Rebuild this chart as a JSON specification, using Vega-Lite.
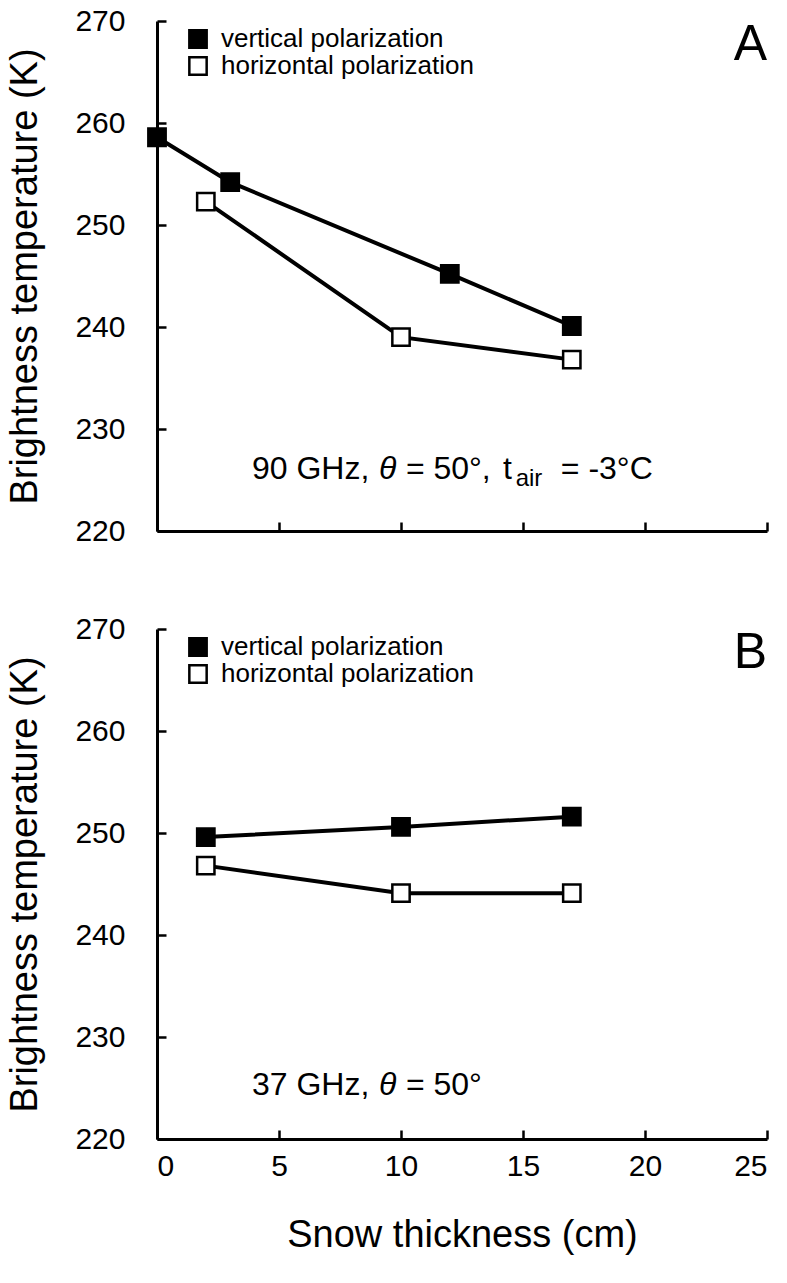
{
  "$schema": "https://vega.github.io/schema/vega-lite/v6.json",
  "background": "white",
  "padding": {"left": 6, "top": 6, "right": 10, "bottom": 10},
  "spacing": 68,
  "datasets": {
    "a": [
      {"x": 0, "tb": 258.6, "pol": "vertical polarization"},
      {"x": 3, "tb": 254.2, "pol": "vertical polarization"},
      {"x": 12, "tb": 245.2, "pol": "vertical polarization"},
      {"x": 17, "tb": 240.1, "pol": "vertical polarization"},
      {"x": 2, "tb": 252.3, "pol": "horizontal polarization"},
      {"x": 10, "tb": 239.0, "pol": "horizontal polarization"},
      {"x": 17, "tb": 236.8, "pol": "horizontal polarization"}
    ],
    "b": [
      {"x": 2, "tb": 249.6, "pol": "vertical polarization"},
      {"x": 10, "tb": 250.6, "pol": "vertical polarization"},
      {"x": 17, "tb": 251.6, "pol": "vertical polarization"},
      {"x": 2, "tb": 246.8, "pol": "horizontal polarization"},
      {"x": 10, "tb": 244.1, "pol": "horizontal polarization"},
      {"x": 17, "tb": 244.1, "pol": "horizontal polarization"}
    ]
  },
  "config": {
    "view": {"stroke": null},
    "axis": {
      "domainColor": "black", "domainWidth": 3, "tickColor": "black", "tickWidth": 2.5, "tickSize": -9,
      "labelFont": "Liberation Sans Narrow, Liberation Sans", "labelFontSize": 30, "labelColor": "black",
      "titleFont": "Liberation Sans", "titleFontSize": 38, "titleFontWeight": "normal", "titleColor": "black",
      "grid": false
    },
    "legend": {
      "orient": "none", "legendX": 28, "legendY": 5, "title": null, "padding": 0,
      "symbolType": "square", "symbolSize": 300, "symbolStrokeColor": "black", "symbolStrokeWidth": 2.5,
      "labelFont": "Liberation Sans", "labelFontSize": 26, "labelColor": "black", "labelOffset": 10, "labelLimit": 0, "rowPadding": -6
    },
    "text": {"font": "Liberation Sans", "color": "black"}
  },
  "resolve": {"scale": {"fill": "independent"}, "legend": {"fill": "independent"}},
  "vconcat": [
    {
      "width": 610, "height": 510,
      "layer": [
        {
          "data": {"name": "a"},
          "mark": {"type": "line", "color": "black", "strokeWidth": 4},
          "encoding": {
            "x": {"field": "x", "type": "quantitative", "scale": {"domain": [0, 25], "nice": false},
                  "axis": {"values": [0, 5, 10, 15, 20, 25], "labels": false, "title": null}},
            "y": {"field": "tb", "type": "quantitative", "scale": {"domain": [220, 270], "nice": false, "zero": false},
                  "axis": {"values": [220, 230, 240, 250, 260, 270], "labelPadding": 41, "titlePadding": 30, "title": "Brightness temperature (K)"}},
            "detail": {"field": "pol", "type": "nominal"}
          }
        },
        {
          "data": {"name": "a"},
          "mark": {"type": "point", "shape": "square", "filled": true, "size": 300, "stroke": "black", "strokeWidth": 2.5, "opacity": 1},
          "encoding": {
            "x": {"field": "x", "type": "quantitative"},
            "y": {"field": "tb", "type": "quantitative"},
            "fill": {"field": "pol", "type": "nominal",
                     "scale": {"domain": ["vertical polarization", "horizontal polarization"], "range": ["black", "white"]}}
          }
        },
        {"data": {"values": [{}]}, "mark": {"type": "text", "text": "A", "fontSize": 50, "align": "right", "baseline": "alphabetic"},
         "encoding": {"x": {"datum": 25}, "y": {"datum": 266.2}}},
        {"data": {"values": [{}]}, "mark": {"type": "text", "text": "90 GHz,", "fontSize": 32, "align": "left", "baseline": "alphabetic"},
         "encoding": {"x": {"datum": 3.89}, "y": {"datum": 225.1}}},
        {"data": {"values": [{}]}, "mark": {"type": "text", "text": "θ", "fontSize": 32, "fontStyle": "italic", "align": "left", "baseline": "alphabetic"},
         "encoding": {"x": {"datum": 9.1}, "y": {"datum": 225.1}}},
        {"data": {"values": [{}]}, "mark": {"type": "text", "text": "= 50°,", "fontSize": 32, "align": "left", "baseline": "alphabetic"},
         "encoding": {"x": {"datum": 10.2}, "y": {"datum": 225.1}}},
        {"data": {"values": [{}]}, "mark": {"type": "text", "text": "t", "fontSize": 32, "align": "left", "baseline": "alphabetic"},
         "encoding": {"x": {"datum": 14.18}, "y": {"datum": 225.1}}},
        {"data": {"values": [{}]}, "mark": {"type": "text", "text": "air", "fontSize": 24, "align": "left", "baseline": "alphabetic"},
         "encoding": {"x": {"datum": 14.7}, "y": {"datum": 224.4}}},
        {"data": {"values": [{}]}, "mark": {"type": "text", "text": "= -3°C", "fontSize": 32, "align": "left", "baseline": "alphabetic"},
         "encoding": {"x": {"datum": 16.55}, "y": {"datum": 225.1}}}
      ]
    },
    {
      "width": 610, "height": 510,
      "layer": [
        {
          "data": {"name": "b"},
          "mark": {"type": "line", "color": "black", "strokeWidth": 4},
          "encoding": {
            "x": {"field": "x", "type": "quantitative", "scale": {"domain": [0, 25], "nice": false},
                  "axis": {"values": [0, 5, 10, 15, 20, 25], "labelPadding": 21, "titlePadding": 35, "title": "Snow thickness (cm)"}},
            "y": {"field": "tb", "type": "quantitative", "scale": {"domain": [220, 270], "nice": false, "zero": false},
                  "axis": {"values": [220, 230, 240, 250, 260, 270], "labelPadding": 41, "titlePadding": 30, "title": "Brightness temperature (K)"}},
            "detail": {"field": "pol", "type": "nominal"}
          }
        },
        {
          "data": {"name": "b"},
          "mark": {"type": "point", "shape": "square", "filled": true, "size": 300, "stroke": "black", "strokeWidth": 2.5, "opacity": 1},
          "encoding": {
            "x": {"field": "x", "type": "quantitative"},
            "y": {"field": "tb", "type": "quantitative"},
            "fill": {"field": "pol", "type": "nominal",
                     "scale": {"domain": ["vertical polarization", "horizontal polarization"], "range": ["black", "white"]}}
          }
        },
        {"data": {"values": [{}]}, "mark": {"type": "text", "text": "B", "fontSize": 50, "align": "right", "baseline": "alphabetic"},
         "encoding": {"x": {"datum": 25}, "y": {"datum": 266.2}}},
        {"data": {"values": [{}]}, "mark": {"type": "text", "text": "37 GHz,", "fontSize": 32, "align": "left", "baseline": "alphabetic"},
         "encoding": {"x": {"datum": 3.89}, "y": {"datum": 224.3}}},
        {"data": {"values": [{}]}, "mark": {"type": "text", "text": "θ", "fontSize": 32, "fontStyle": "italic", "align": "left", "baseline": "alphabetic"},
         "encoding": {"x": {"datum": 9.1}, "y": {"datum": 224.3}}},
        {"data": {"values": [{}]}, "mark": {"type": "text", "text": "= 50°", "fontSize": 32, "align": "left", "baseline": "alphabetic"},
         "encoding": {"x": {"datum": 10.2}, "y": {"datum": 224.3}}}
      ]
    }
  ]
}
